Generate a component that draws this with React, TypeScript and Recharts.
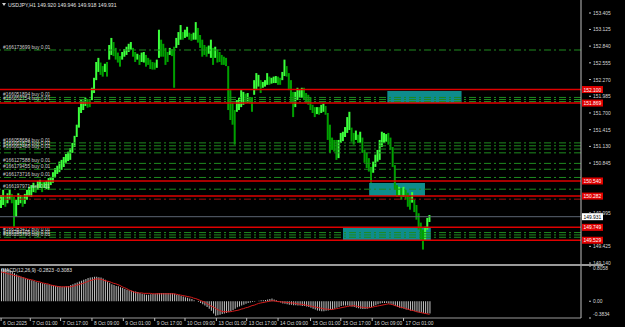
import React from 'react';
import { ComposedChart, Bar, Line, XAxis, YAxis, ReferenceLine, ReferenceArea, Cell } from 'recharts';

const highs = [
150.30,150.39,150.28,150.33,150.39,150.32,150.27,150.22,150.33,150.30,
150.27,150.32,150.39,150.44,150.47,150.51,150.47,150.54,150.56,150.52,
150.52,150.54,150.59,150.61,150.69,150.76,150.80,150.87,150.90,150.95,
151.00,151.04,151.10,151.19,151.31,151.50,151.80,151.92,151.91,151.96,
151.94,151.92,152.13,152.30,152.57,152.64,152.56,152.50,152.54,152.57,
152.86,152.98,152.91,152.81,152.73,152.67,152.74,152.79,152.83,152.88,
152.91,152.81,152.74,152.71,152.69,152.73,152.74,152.69,152.64,152.61,
152.57,152.56,152.61,153.12,152.95,152.88,152.81,152.74,152.81,152.79,
152.83,152.98,153.08,153.20,153.08,153.12,153.17,153.07,153.05,153.07,
153.25,153.15,153.03,152.95,152.86,152.83,152.85,152.95,152.81,152.83,
152.78,152.74,152.69,152.66,152.64,152.50,152.09,151.87,151.75,151.92,
151.96,152.09,152.06,152.03,152.04,151.97,151.97,152.26,152.38,152.35,
152.26,152.23,152.26,152.38,152.32,152.30,152.32,152.33,152.32,152.30,
152.40,152.61,152.50,152.38,152.26,152.06,152.06,152.13,152.09,152.13,
152.13,152.04,152.01,151.97,151.84,151.80,151.80,151.80,151.84,151.86,
151.82,151.70,151.50,151.28,151.24,151.24,151.24,151.36,151.38,151.46,
151.63,151.72,151.45,151.36,151.40,151.33,151.38,151.28,151.07,151.02,
150.93,150.78,150.87,150.99,151.07,151.24,151.38,151.36,151.34,151.36,
151.28,151.12,150.81,150.47,150.44,150.42,150.44,150.39,150.34,150.27,
150.35,150.22,150.13,149.99,149.83,149.71,149.76,149.91,149.96
];

const lows = [
150.08,150.13,150.10,150.16,150.22,150.16,149.76,149.93,150.13,150.16,
150.10,150.15,150.22,150.28,150.27,150.35,150.34,150.39,150.42,150.35,
150.42,150.40,150.39,150.47,150.51,150.61,150.66,150.69,150.73,150.78,
150.85,150.88,150.90,151.02,151.12,151.29,151.45,151.70,151.75,151.82,
151.79,151.80,151.92,152.04,152.26,152.40,152.35,152.32,152.40,152.32,
152.61,152.69,152.67,152.61,152.56,152.49,152.61,152.66,152.69,152.74,
152.78,152.66,152.57,152.61,152.52,152.57,152.56,152.49,152.52,152.45,
152.44,152.44,152.47,152.64,152.66,152.66,152.52,152.57,152.69,152.67,
152.13,152.81,152.86,152.95,152.95,152.98,153.00,152.95,152.93,152.95,
152.95,152.90,152.81,152.66,152.69,152.66,152.71,152.64,152.52,152.64,
152.56,152.57,152.52,152.52,152.50,151.75,151.58,151.50,151.16,151.72,
151.75,151.80,151.84,151.86,151.87,151.86,151.72,152.01,152.09,152.15,
152.04,152.13,152.15,152.18,152.18,152.20,152.21,152.21,152.18,152.18,
152.26,152.33,152.32,152.09,151.87,151.63,151.80,151.92,151.96,151.96,
151.92,151.87,151.84,151.75,151.70,151.63,151.68,151.67,151.70,151.72,
151.67,151.24,151.02,151.07,151.04,150.90,150.93,151.19,151.22,151.29,
151.36,151.41,151.21,151.16,151.24,151.19,151.19,151.02,150.85,150.76,
150.70,150.51,150.68,150.78,150.87,150.90,151.12,151.19,151.21,151.16,
151.07,150.78,150.39,150.27,150.30,150.22,150.27,150.22,150.10,150.05,
150.17,150.01,149.88,149.71,149.54,149.37,149.54,149.71,149.84
];

const macdHist = [
0.75,0.75,0.74,0.73,0.71,0.68,0.64,0.61,0.58,0.56,
0.55,0.53,0.51,0.49,0.48,0.46,0.44,0.43,0.42,0.41,
0.40,0.39,0.38,0.37,0.36,0.35,0.34,0.34,0.33,0.33,
0.34,0.35,0.37,0.39,0.41,0.43,0.45,0.47,0.49,0.51,
0.53,0.54,0.55,0.56,0.56,0.55,0.54,0.52,0.49,0.45,
0.42,0.39,0.37,0.35,0.34,0.32,0.30,0.28,0.26,0.25,
0.24,0.23,0.22,0.21,0.19,0.17,0.16,0.15,0.15,0.16,
0.17,0.17,0.18,0.19,0.19,0.19,0.19,0.19,0.19,0.18,
0.17,0.15,0.14,0.12,0.11,0.09,0.08,0.06,0.05,0.02,
0.00,-0.02,-0.04,-0.07,-0.10,-0.13,-0.17,-0.22,-0.28,-0.33,
-0.32,-0.31,-0.29,-0.28,-0.27,-0.25,-0.23,-0.20,-0.17,-0.14,
-0.12,-0.10,-0.08,-0.06,-0.04,-0.03,-0.02,-0.01,0.00,0.01,
0.02,0.02,0.03,0.04,0.05,0.06,0.04,0.02,-0.01,-0.03,
-0.05,-0.06,-0.07,-0.08,-0.08,-0.09,-0.09,-0.10,-0.10,-0.11,
-0.11,-0.12,-0.13,-0.15,-0.17,-0.19,-0.21,-0.22,-0.23,-0.23,
-0.22,-0.21,-0.20,-0.19,-0.17,-0.15,-0.13,-0.11,-0.10,-0.10,
-0.10,-0.11,-0.12,-0.13,-0.15,-0.16,-0.17,-0.18,-0.18,-0.17,
-0.15,-0.13,-0.11,-0.09,-0.07,-0.05,-0.04,-0.04,-0.04,-0.05,
-0.06,-0.08,-0.11,-0.13,-0.15,-0.16,-0.17,-0.19,-0.20,-0.21,
-0.22,-0.23,-0.24,-0.25,-0.26,-0.27,-0.28,-0.28,-0.28
];

const macdSignal = [
0.67,0.66,0.65,0.63,0.62,0.61,0.59,0.58,0.57,0.56,
0.54,0.53,0.51,0.50,0.49,0.48,0.46,0.45,0.44,0.42,
0.41,0.40,0.39,0.37,0.36,0.35,0.34,0.33,0.33,0.33,
0.33,0.33,0.33,0.34,0.35,0.37,0.38,0.40,0.41,0.43,
0.45,0.47,0.48,0.50,0.51,0.51,0.50,0.49,0.47,0.46,
0.45,0.43,0.41,0.40,0.38,0.36,0.33,0.31,0.29,0.26,
0.24,0.22,0.20,0.19,0.19,0.19,0.18,0.18,0.18,0.18,
0.17,0.17,0.17,0.17,0.17,0.17,0.17,0.17,0.17,0.17,
0.17,0.16,0.15,0.14,0.13,0.12,0.11,0.10,0.09,0.07,
0.06,0.04,0.02,0.00,-0.02,-0.05,-0.08,-0.11,-0.13,-0.16,
-0.19,-0.21,-0.23,-0.24,-0.24,-0.24,-0.24,-0.23,-0.22,-0.21,
-0.20,-0.18,-0.17,-0.15,-0.14,-0.12,-0.10,-0.09,-0.07,-0.05,
-0.04,-0.03,-0.02,-0.01,0.00,0.01,0.01,0.00,-0.01,-0.01,
-0.02,-0.02,-0.03,-0.03,-0.04,-0.04,-0.05,-0.06,-0.07,-0.07,
-0.08,-0.09,-0.10,-0.11,-0.12,-0.13,-0.14,-0.15,-0.16,-0.17,
-0.18,-0.18,-0.19,-0.19,-0.18,-0.17,-0.16,-0.15,-0.14,-0.13,
-0.12,-0.11,-0.11,-0.10,-0.11,-0.12,-0.13,-0.14,-0.14,-0.15,
-0.15,-0.14,-0.13,-0.12,-0.11,-0.10,-0.09,-0.08,-0.07,-0.06,
-0.07,-0.08,-0.10,-0.11,-0.13,-0.14,-0.15,-0.17,-0.18,-0.20,
-0.21,-0.22,-0.24,-0.25,-0.26,-0.27,-0.28,-0.29,-0.30
];

const timeLabels = ['6 Oct 2025','7 Oct 01:00','7 Oct 17:00','8 Oct 09:00','9 Oct 01:00','9 Oct 17:00','10 Oct 09:00','13 Oct 01:00','13 Oct 17:00','14 Oct 09:00','15 Oct 01:00','15 Oct 17:00','16 Oct 09:00','17 Oct 01:00'];
const timeTickBars = [0, 13.5, 27.5, 42, 56.5, 71, 85, 99.5, 113.5, 128, 143, 157, 171.5, 186];

// visible price-scale labels (the ones under the red/white tags are hidden in the reference)
const priceTicks = [153.405,153.125,152.840,152.555,152.270,151.985,151.700,151.415,151.130,150.845,149.995,149.425,149.140];
const macdTicks = [0.8058, 0, -0.3834];

// open orders: price, ticket text (empty = no label)
const buyOrderPrices = [152.774, 151.965, 151.930, 151.895, 151.190, 151.140, 151.085, 151.020, 150.840, 150.740, 150.600, 150.400, 149.660, 149.620, 149.580];
const buyOrderTexts = ['#166173699 buy 0.01','#166051894 buy 0.01','','#166052754 buy 0.01','#166058684 buy 0.01','#166061875 buy 0.01','#166062486 buy 0.01','','#166127588 buy 0.01','#166179455 buy 0.01','#166173716 buy 0.01','#166197971 sell 0.01','#166283412 buy 0.01','#166284105 buy 0.01','#166285790 buy 0.01'];
const sellOrderPrices = [150.230];
const levelPrices = [152.100, 151.869, 150.540, 150.282, 149.749, 149.529];
const levelTexts = ['152.100','151.869','150.540','150.282','149.749','149.529'];
const bidPrice = 149.931;
const bidText = '149.931';
const zones = [
  { from: 178.5, to: 212.8, top: 152.075, bottom: 151.870 },
  { from: 170.1, to: 195.9, top: 150.505, bottom: 150.283 },
  { from: 158.0, to: 198.6, top: 149.740, bottom: 149.516 },
];
const title = 'USDJPY,H1  149.920 149.946 149.918 149.931';
const macdTitle = 'MACD(12,26,9) -0.2823 -0.3083';

const data = highs.map((h, i) => ({
  i,
  range: [lows[i], h],
  hist: macdHist[i],
  sig: macdSignal[i],
}));

const FONT = '"Liberation Sans", Arial, sans-serif';
const TXT = '#d8d8d8';
const FS = 4.9;

const PriceTick = (p: any) => {
  const { x, y, payload } = p;
  return (
    <g>
      <line x1={x} x2={x + 2} y1={y} y2={y} stroke="#c0c0c0" strokeWidth={1} />
      <text x={x + 4} y={y + 2} fontSize={FS} fill={TXT} fontFamily={FONT}>{payload.value.toFixed(3)}</text>
    </g>
  );
};

const MacdTick = (p: any) => {
  const { x, y, payload } = p;
  const v = payload.value;
  const dy = v > 0.5 ? 4 : v < -0.2 ? -2 : 2;
  const t = v === 0 ? '0.00' : v.toFixed(4);
  return (
    <g>
      <line x1={x} x2={x + 2} y1={y} y2={y} stroke="#c0c0c0" strokeWidth={1} />
      <text x={x + 4} y={y + dy} fontSize={FS} fill={TXT} fontFamily={FONT}>{t}</text>
    </g>
  );
};

const TimeTick = (p: any) => {
  const { x, y, index } = p;
  return (
    <g>
      <line x1={x} x2={x} y1={y} y2={y + 3} stroke="#c0c0c0" strokeWidth={1} />
      <text x={x + 2} y={y + 6.5} fontSize={FS} fill={TXT} fontFamily={FONT}>{timeLabels[index]}</text>
    </g>
  );
};

const OrderLabel = (p: any) => {
  const { viewBox, text, color } = p;
  if (!viewBox || !text) return null;
  return (
    <text x={viewBox.x + 3} y={viewBox.y - 1.2} fontSize={FS} fill={color} fontFamily={FONT}>{text}</text>
  );
};

const Tag = (p: any) => {
  const { viewBox, text, bg, fg } = p;
  if (!viewBox) return null;
  const x = viewBox.x + viewBox.width + 1;
  return (
    <g>
      <rect x={x} y={viewBox.y - 3.5} width={21} height={7} fill={bg} />
      <text x={x + 1.5} y={viewBox.y + 2} fontSize={FS} fill={fg} fontFamily={FONT}>{text}</text>
    </g>
  );
};

export default function App() {
  return (
    <div style={{ position: 'absolute', left: 0, top: 0, width: 625, height: 327, background: '#000', overflow: 'hidden' }}>
      <div style={{ position: 'absolute', left: 0, top: 0 }}>
        <ComposedChart width={625} height={270} data={data} margin={{ top: 0, right: 22, bottom: 6, left: 0 }}>
          <XAxis type="number" dataKey="i" domain={[-0.5, 268]} hide />
          <YAxis orientation="right" width={22} domain={[149.124, 153.627]} ticks={priceTicks} interval={0}
            axisLine={{ stroke: '#c0c0c0' }} tickLine={false} tick={<PriceTick />} allowDataOverflow />
          {zones.map((z, k) => (
            <ReferenceArea key={'z' + k} x1={z.from} x2={z.to} y1={z.bottom} y2={z.top} fill="#0e8c8c" fillOpacity={1} stroke="none" ifOverflow="visible" />
          ))}
          {buyOrderPrices.map((pr, k) => (
            <ReferenceLine key={'b' + k} y={pr} stroke="#1f8a1f" strokeWidth={1} strokeDasharray="7 3 2 3"
              label={(lp: any) => <OrderLabel {...lp} text={buyOrderTexts[k]} color="#cfcfcf" />} />
          ))}
          {sellOrderPrices.map((pr, k) => (
            <ReferenceLine key={'s' + k} y={pr} stroke="#a01010" strokeWidth={1} strokeDasharray="7 3 2 3" />
          ))}
          <ReferenceLine y={bidPrice} stroke="#5c6673" strokeWidth={1}
            label={(lp: any) => <Tag {...lp} text={bidText} bg="#ffffff" fg="#000000" />} />
          {levelPrices.map((pr, k) => (
            <ReferenceLine key={'l' + k} y={pr} stroke="#e00000" strokeWidth={1.5}
              label={(lp: any) => <Tag {...lp} text={levelTexts[k]} bg="#e00000" fg="#ffffff" />} />
          ))}
          <Bar dataKey="range" barSize={2} isAnimationActive={false}>
            {data.map((d, k) => {
              const mid = (highs[k] + lows[k]) / 2;
              const prevMid = k > 0 ? (highs[k - 1] + lows[k - 1]) / 2 : mid;
              return <Cell key={k} fill={mid >= prevMid ? '#3cff3c' : '#00a000'} />;
            })}
          </Bar>
        </ComposedChart>
      </div>
      <svg style={{ position: 'absolute', left: 0, top: 0 }} width={625} height={12}>
        <path d="M2 3 L6 3 L4 6 Z" fill="#d0d0d0" />
        <text x={8} y={7} fontSize={5.2} fill="#e0e0e0" fontFamily={FONT}>{title}</text>
      </svg>
      <div style={{ position: 'absolute', left: 0, top: 264, width: 603, height: 2, background: '#9a9a9a' }} />
      <div style={{ position: 'absolute', left: 0, top: 266 }}>
        <ComposedChart width={625} height={61} data={data} margin={{ top: 0, right: 22, bottom: 0, left: 0 }}>
          <XAxis type="number" dataKey="i" domain={[-0.5, 268]} ticks={timeTickBars} interval={0} height={9}
            axisLine={{ stroke: '#9a9a9a' }} tickLine={false} tick={<TimeTick />} tickSize={0} tickMargin={0} allowDataOverflow />
          <YAxis orientation="right" width={22} domain={[-0.3834, 0.8058]} ticks={macdTicks} interval={0}
            axisLine={{ stroke: '#c0c0c0' }} tickLine={false} tick={<MacdTick />} allowDataOverflow />
          <Bar dataKey="hist" barSize={1} fill="#c4c4c4" isAnimationActive={false} />
          <Line dataKey="sig" stroke="#d41c1c" strokeWidth={1} dot={false} isAnimationActive={false} type="linear" />
        </ComposedChart>
      </div>
      <svg style={{ position: 'absolute', left: 0, top: 266 }} width={200} height={10}>
        <text x={2} y={6} fontSize={FS} fill="#e0e0e0" fontFamily={FONT}>{macdTitle}</text>
      </svg>
    </div>
  );
}
